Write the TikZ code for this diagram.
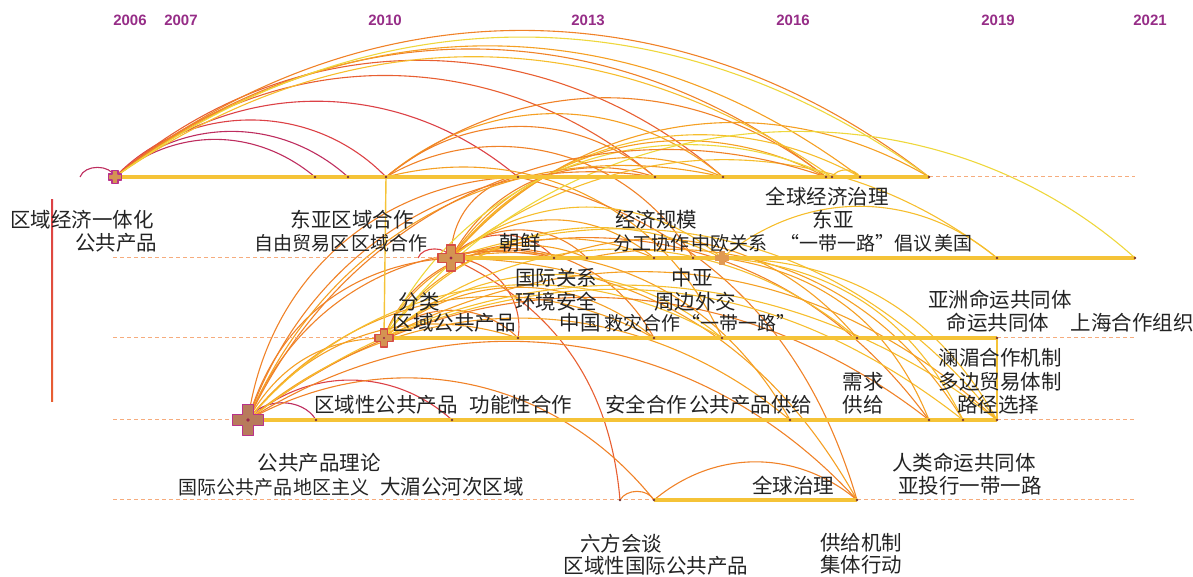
\documentclass[tikz,border=0pt]{standalone}
\usepackage{fontspec}
\newfontfamily\cjk{Noto Sans CJK SC}
\newfontfamily\yearsf{Liberation Sans}

\definecolor{yr06}{RGB}{190,45,95}
\definecolor{yr08}{RGB}{220,65,70}
\definecolor{yr10}{RGB}{232,95,50}
\definecolor{yr12}{RGB}{240,130,40}
\definecolor{yr14}{RGB}{245,160,35}
\definecolor{yr16}{RGB}{246,190,45}
\definecolor{yr18}{RGB}{238,215,60}
\definecolor{slicebar}{RGB}{245,195,55}
\definecolor{slicedash}{RGB}{246,172,125}
\definecolor{yearlbl}{RGB}{150,45,135}
\definecolor{termtxt}{RGB}{35,35,35}
\definecolor{hubrim}{RGB}{185,50,140}
\definecolor{dotc}{RGB}{120,55,55}

% cross-shaped hub: centre, half width, half arm, fill, rim
\newcommand{\hubcross}[5]{%
  \filldraw[fill=#4, draw=#5, line width=1.2pt, line join=round]
    (#1) ++(-#2,#3) -- ++({2*#2},0) -- ++(0,{-#3+#2}) -- ++({#3-#2},0)
    -- ++(0,{-2*#2}) -- ++({-#3+#2},0) -- ++(0,{-#3+#2}) -- ++({-2*#2},0)
    -- ++(0,{#3-#2}) -- ++({-#3+#2},0) -- ++(0,{2*#2}) -- ++({#3-#2},0) -- cycle;
}

\begin{document}
\begin{tikzpicture}[x=1pt, y=1pt,
        cite/.style={line width=1.1pt, draw=#1},
        bar/.style={line width=3.5pt, draw=slicebar},
        gap/.style={line width=1pt, draw=slicedash, dash pattern=on 4pt off 3pt},
        rise/.style={line width=1.4pt, draw=slicebar},
        term/.style={font=\cjk\fontsize{20.5}{22}\selectfont, text=termtxt, inner sep=0pt},
        tight/.style={font=\cjk\fontsize{19}{22}\selectfont, text=termtxt, inner sep=0pt},
        yearlab/.style={font=\yearsf\bfseries\fontsize{15}{15}\selectfont, text=yearlbl, inner sep=0pt}]
        \useasboundingbox (0,0) rectangle (1193,577);

        % Anos
        \node (y2006) [yearlab] at (130,557) {2006};
        \node (y2007) [yearlab] at (181,557) {2007};
        \node (y2010) [yearlab] at (385,557) {2010};
        \node (y2013) [yearlab] at (588,557) {2013};
        \node (y2016) [yearlab] at (793,557) {2016};
        \node (y2019) [yearlab] at (998,557) {2019};
        \node (y2021) [yearlab] at (1150,557) {2021};

        % Pontos das faixas
        \coordinate (r1s) at (80,400);
        \coordinate (n06) at (115,400);
        \coordinate (r1b) at (315,400);
        \coordinate (r1c) at (348,400);
        \coordinate (r1d) at (386,400);
        \coordinate (r1e) at (518,400);
        \coordinate (r1f) at (655,400);
        \coordinate (r1g) at (723,400);
        \coordinate (r1h) at (826,400);
        \coordinate (r1i) at (832,400);
        \coordinate (r1j) at (860,400);
        \coordinate (r1k) at (929,400);
        \coordinate (r1end) at (1135,400);

        \coordinate (r2beg) at (113,319);
        \coordinate (r2s) at (418,319);
        \coordinate (n11) at (451,319);
        \coordinate (r2b) at (554,319);
        \coordinate (r2c) at (587,319);
        \coordinate (r2d) at (654,319);
        \coordinate (r2e) at (693,319);
        \coordinate (n15) at (722,319);
        \coordinate (r2f) at (997,319);
        \coordinate (r2g) at (1135,319);

        \coordinate (r3beg) at (113,239);
        \coordinate (n10) at (384,239);
        \coordinate (r3b) at (518,239);
        \coordinate (r3c) at (654,239);
        \coordinate (r3d) at (722,239);
        \coordinate (r3e) at (857,239);
        \coordinate (r3f) at (997,239);
        \coordinate (r3end) at (1135,239);

        \coordinate (r4beg) at (113,157);
        \coordinate (n09) at (248,157);
        \coordinate (r4b) at (316,157);
        \coordinate (r4c) at (452,157);
        \coordinate (r4d) at (790,157);
        \coordinate (r4e) at (929,157);
        \coordinate (r4f) at (963,157);
        \coordinate (r4g) at (997,157);
        \coordinate (r4end) at (1135,157);

        \coordinate (r5beg) at (113,77);
        \coordinate (r5a) at (620,77);
        \coordinate (r5b) at (654,77);
        \coordinate (r5c) at (857,77);
        \coordinate (r5end) at (1135,77);

        % Ligacoes a partir de 2006
        \draw[cite=yr06] (r1s) to[bend left=70] (n06);
        \draw[cite=yr06] (n06) to[bend left=40] (r1b);
        \draw[cite=yr06] (n06) to[bend left=42] (r1c);
        \draw[cite=yr08] (n06) to[bend left=46] (r1d);
        \draw[cite=yr08] (n06) to[bend left=40] (r1e);
        \draw[cite=yr10] (n06) to[bend left=40] (r1f);
        \draw[cite=yr10] (n06) to[bend left=41] (r1g);
        \draw[cite=yr12] (n06) to[bend left=38] (r1h);
        \draw[cite=yr16] (n06) to[bend left=35] (r1i);
        \draw[cite=yr14] (n06) to[bend left=37] (r1j);
        \draw[cite=yr12] (n06) to[bend left=38] (r1k);
        \draw[cite=yr18] (n06) to[bend left=36] (r1k);

        % Ligacoes a partir de 2010
        \draw[cite=yr12] (r1d) to[bend left=40] (r1f);
        \draw[cite=yr14] (r1d) to[bend left=40] (r1g);
        \draw[cite=yr12] (r1d) to[bend left=38] (r1h);
        \draw[cite=yr12] (r1d) to[bend left=45] (r2e);
        \draw[cite=yr14] (r1d) to[bend left=40] (r3d);
        \draw[cite=yr12] (r1e) to[bend left=30] (r5c);

        \draw[cite=yr08] (r2s) to[bend left=70] (n11);
        \draw[cite=yr10] (n11) to[bend left=50] (r2b);
        \draw[cite=yr12] (n11) to[bend left=45] (r2c);
        \draw[cite=yr12] (n11) to[bend left=40] (r1e);
        \draw[cite=yr12] (n11) to[bend left=40] (r1f);
        \draw[cite=yr14] (n11) to[bend left=40] (r1g);
        \draw[cite=yr14] (n11) to[bend left=40] (r1h);
        \draw[cite=yr16] (n11) to[bend left=40] (r1j);
        \draw[cite=yr14] (n11) to[bend left=40] (r1k);
        \draw[cite=yr14] (n11) to[bend left=40] (r2d);
        \draw[cite=yr16] (n11) to[bend left=40] (n15);
        \draw[cite=yr16] (n11) to[bend left=38] (r2f);
        \draw[cite=yr10] (n11) to[bend left=50] (r3b);
        \draw[cite=yr10] (n11) to[bend left=30] (r5a);
        \draw[cite=yr12] (n11) to[bend left=40] (r3c);
        \draw[cite=yr14] (n11) to[bend left=35] (r4d);
        \draw[cite=yr14] (n11) to[bend left=30] (r5c);
        \draw[cite=yr12] (n11) to[bend left=35] (r4e);
        \draw[cite=yr16] (n11) to[bend left=35] (r4g);

        \draw[cite=yr12] (n10) to[bend left=45] (r3b);
        \draw[cite=yr12] (n10) to[bend left=45] (r2b);
        \draw[cite=yr14] (n10) to[bend left=45] (r2c);
        \draw[cite=yr14] (n10) to[bend left=40] (r2d);
        \draw[cite=yr16] (n10) to[bend left=40] (n15);
        \draw[cite=yr14] (n10) to[bend left=40] (r3c);
        \draw[cite=yr16] (n10) to[bend left=40] (r3d);
        \draw[cite=yr16] (n10) to[bend left=40] (r3e);
        \draw[cite=yr18] (n10) to[bend left=48] (r2g);
        \draw[cite=yr18] (n10) to[bend left=45] (r1i);
        \draw[cite=yr16] (n10) to[bend left=30] (r4f);
        \draw[cite=yr14] (n10) to[bend left=35] (r4g);

        % Ligacoes a partir de 2009
        \draw[cite=yr06] (n09) to[bend left=60] (r4b);
        \draw[cite=yr08] (n09) to[bend left=42] (r4c);
        \draw[cite=yr14] (n09) to[bend left=30] (n10);
        \draw[cite=yr14] (n09) to[bend left=35] (r3b);
        \draw[cite=yr12] (n09) to[bend left=40] (r2b);
        \draw[cite=yr12] (n09) to[bend left=35] (n11);
        \draw[cite=yr12] (n09) to[bend left=40] (r1e);
        \draw[cite=yr12] (n09) to[bend left=40] (r1f);
        \draw[cite=yr14] (n09) to[bend left=40] (r1g);
        \draw[cite=yr12] (n09) to[bend left=42] (r1h);
        \draw[cite=yr14] (n09) to[bend left=40] (r3c);
        \draw[cite=yr16] (n09) to[bend left=40] (r3d);
        \draw[cite=yr14] (n09) to[bend left=40] (r4d);
        \draw[cite=yr12] (n09) to[bend left=38] (r4e);
        \draw[cite=yr16] (n09) to[bend left=38] (r4g);
        \draw[cite=yr12] (n09) to[bend left=40] (r5b);
        \draw[cite=yr12] (n09) to[bend left=40] (r5c);

        % Ligacoes a partir de 2013
        \draw[cite=yr14] (r2b) to[bend left=35] (r3e);
        \draw[cite=yr14] (r2c) to[bend left=35] (r4f);
        \draw[cite=yr16] (n15) to[bend left=40] (r2f);
        \draw[cite=yr16] (n15) to[bend left=30] (r4f);
        \draw[cite=yr16] (n15) to[bend left=30] (r4g);
        \draw[cite=yr14] (n15) to[bend left=30] (r4e);
        \draw[cite=yr16] (r1i) to[bend left=60] (r1j);
        \draw[cite=yr12] (r5a) to[bend left=60] (r5b);
        \draw[cite=yr12] (r5b) to[bend left=40] (r5c);

        % Faixas
        \draw[bar] (n06) -- (r1k);
        \draw[gap] (r1k) -- (r1end);
        \draw[gap] (r2beg) -- (n11);
        \draw[bar] (n11) -- (r2g);
        \draw[gap] (r3beg) -- (n10);
        \draw[bar] (n10) -- (r3f);
        \draw[gap] (r3f) -- (r3end);
        \draw[gap] (r4beg) -- (n09);
        \draw[bar] (n09) -- (r4g);
        \draw[gap] (r4g) -- (r4end);
        \draw[gap] (r5beg) -- (r5b);
        \draw[bar] (r5b) -- (r5c);
        \draw[gap] (r5c) -- (r5end);
        \draw[rise] (r1d) -- (n10);
        \draw[rise] (r3f) -- (r4g);
        \shade[top color=yr08, bottom color=yr10] (51,377) rectangle (53,175);

        % Pontos
        \foreach \p in {r1b,r1c,r1d,r1e,r1f,r1g,r1h,r1i,r1j,r1k,r2b,r2c,r2d,r2e,r2f,r2g,
                        r3b,r3c,r3d,r3e,r3f,r4b,r4c,r4d,r4e,r4f,r4g,r5a,r5b,r5c}
            \fill[dotc] (\p) circle (1.4);

        % Nos principais
        \hubcross{n09}{5.5}{15.5}{yr06!20!brown!90!black!85}{hubrim}
        \hubcross{n11}{4.8}{13}{brown!80!orange!85}{yr08!80!brown}
        \hubcross{n10}{3.6}{9}{brown!80!orange!85}{yr08!80!brown}
        \hubcross{n06}{3}{6.5}{brown!80!orange!85}{hubrim}
        \hubcross{n15}{2.6}{6.5}{brown!60!orange!80}{brown!60!orange!80}
        \fill[yr06!80!black] (n09) circle (1.8);
        \fill[yr06!80!black] (n11) circle (1.6);
        \fill[yr06!80!black] (n10) circle (1.2);

        % Palavras-chave
        \node (kw01) [term] at (82,357) {区域经济一体化};
        \node (kw02) [term] at (116,334) {公共产品};
        \node (kw03) [term] at (352,357) {东亚区域合作};
        \node (kw04) [tight, anchor=east] at (350,334) {自由贸易区};
        \node (kw05) [tight, anchor=west] at (351,334) {区域合作};
        \node (kw06) [term] at (520,334) {朝鲜};
        \node (kw07) [term] at (656,357) {经济规模};
        \node (kw08) [tight, anchor=east] at (690,334) {分工协作};
        \node (kw09) [tight, anchor=west] at (691,334) {中欧关系};
        \node (kw10) [term] at (827,380) {全球经济治理};
        \node (kw11) [term] at (833,357) {东亚};
        \node (kw12) [tight, anchor=east] at (933,334) {“一带一路”倡议};
        \node (kw13) [tight, anchor=west] at (934,334) {美国};
        \node (kw14) [term] at (556,299) {国际关系};
        \node (kw15) [term] at (556,275) {环境安全};
        \node (kw16) [term] at (692,299) {中亚};
        \node (kw17) [term] at (695,275) {周边外交};
        \node (kw18) [term] at (419,275) {分类};
        \node (kw19) [term] at (454,254) {区域公共产品};
        \node (kw20) [term] at (580,254) {中国};
        \node (kw21) [tight, anchor=west] at (604,254) {救灾合作};
        \node (kw22) [tight, anchor=west] at (681,254) {“一带一路”};
        \node (kw23) [term] at (1000,277) {亚洲命运共同体};
        \node (kw24) [term] at (998,254) {命运共同体};
        \node (kw25) [term] at (1132,254) {上海合作组织};
        \node (kw26) [term] at (1000,219) {澜湄合作机制};
        \node (kw27) [term] at (1000,195) {多边贸易体制};
        \node (kw28) [term] at (998,172) {路径选择};
        \node (kw29) [term] at (863,195) {需求};
        \node (kw30) [term] at (863,172) {供给};
        \node (kw31) [term] at (646,172) {安全合作};
        \node (kw32) [term, anchor=west] at (689,172) {公共产品供给};
        \node (kw33) [term] at (386,172) {区域性公共产品};
        \node (kw34) [term] at (521,172) {功能性合作};
        \node (kw35) [term] at (319,114) {公共产品理论};
        \node (kw36) [tight, anchor=west] at (178,90) {国际公共产品};
        \node (kw37) [tight, anchor=west] at (293,90) {地区主义};
        \node (kw38) [term] at (452,90) {大湄公河次区域};
        \node (kw39) [term] at (793,91) {全球治理};
        \node (kw40) [term] at (964,114) {人类命运共同体};
        \node (kw41) [term] at (970,91) {亚投行一带一路};
        \node (kw42) [term] at (621,33) {六方会谈};
        \node (kw43) [term] at (656,11) {区域性国际公共产品};
        \node (kw44) [term] at (861,34) {供给机制};
        \node (kw45) [term] at (861,12) {集体行动};
\end{tikzpicture}
\end{document}
